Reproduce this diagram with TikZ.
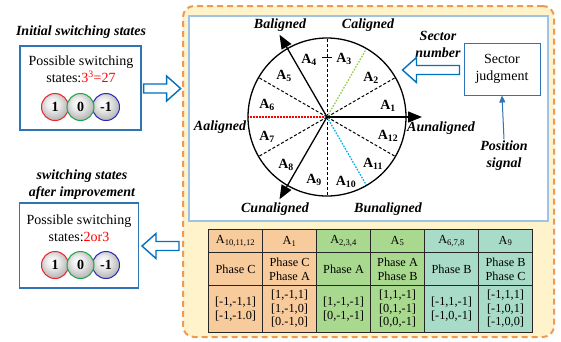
\documentclass[tikz,border=0pt]{standalone}
\usepackage{fontspec}
\setmainfont{Liberation Serif}
\usetikzlibrary{arrows.meta,calc}

\definecolor{panelfill}{HTML}{FFF3CC}
\definecolor{panelline}{HTML}{EE9A55}
\definecolor{boxblue}{HTML}{2E75B6}
\definecolor{paleblue}{HTML}{9DC3E6}
\definecolor{arrowblue}{HTML}{0070C0}
\definecolor{cellorange}{HTML}{F8CB9C}
\definecolor{cellgreen}{HTML}{A9D98E}
\definecolor{cellteal}{HTML}{A8DCC8}
\definecolor{linegreen}{HTML}{92D050}
\definecolor{linecyan}{HTML}{00B0F0}
\definecolor{ringred}{HTML}{E8262B}
\definecolor{ringgreen}{HTML}{22A34A}
\definecolor{ringblue}{HTML}{2A2AB8}

% glossy grey ball used for the three switching levels
\pgfdeclareradialshading{pearl}{\pgfpoint{-6bp}{8bp}}{%
  color(0bp)=(white); color(12bp)=(white!92!black);
  color(30bp)=(white!68!black); color(50bp)=(white!58!black)}

% hollow block arrow of a given length, drawn from the local origin
\newcommand\hollowarrow[2]{%
  \draw[hollow,#1] (0,4.5) -- (#2-14,4.5) -- (#2-14,12.5) -- (#2,0)
    -- (#2-14,-12.5) -- (#2-14,-4.5) -- (0,-4.5) -- cycle;}

\tikzset{
  txt/.style={font=\fontsize{14}{17}\selectfont, align=center, inner sep=0pt},
  bi/.style={font=\fontsize{14}{17}\selectfont\bfseries\itshape, align=center, inner sep=0pt},
  sect/.style={font=\fontsize{14}{17}\selectfont\bfseries, inner sep=0pt},
  statebox/.style={draw=boxblue, line width=1.2pt, fill=white, inner sep=0pt},
  ball/.style={circle, minimum size=27pt, inner sep=0pt, shading=pearl,
    line width=1pt, font=\fontsize{14}{17}\selectfont\bfseries},
  hollow/.style={draw=arrowblue, fill=white, line width=1.4pt, line join=miter},
  spoke/.style={line width=1pt, dash pattern=on 3pt off 2pt},
  dotspoke/.style={line width=1.3pt, dash pattern=on 1.6pt off 1.4pt},
  axis/.style={line width=1.3pt, -{Triangle[length=14pt,width=11pt]}},
  cell/.style={draw=black!85, line width=1.1pt, inner sep=0pt, align=center,
    anchor=north west, minimum width=54pt,
    font=\fontsize{12.3}{13.5}\selectfont},
}

\begin{document}
\begin{tikzpicture}[x=1pt,y=-1pt]
\useasboundingbox (0,0) rectangle (561,341);

% ---------- right-hand panel ----------
\node[draw=panelline, fill=panelfill, line width=2pt, dash pattern=on 6pt off 4pt,
      rounded corners=11pt, minimum width=371pt, minimum height=331pt, inner sep=0pt]
      (panel) at (368.5,171.5) {};
\node[draw=paleblue, fill=white, line width=1.3pt, minimum width=359pt,
      minimum height=205pt, inner sep=0pt] (inner) at (368.5,118.5) {};

% ---------- sector wheel ----------
\coordinate (O) at (327,117);
\draw[spoke] (O) -- +(90:79pt);
\draw[spoke] (O) -- +(270:79pt);
\foreach \a in {30,150,210,330} \draw[spoke] (O) -- +(\a:79pt);
\draw[dotspoke, linegreen] (O) -- +(60:79pt);
\draw[dotspoke, red] (O) -- +(180:79pt);
\draw[dotspoke, linecyan] (O) -- +(300:79pt);
\draw[line width=1.3pt] (O) circle[radius=79pt];
\draw[line width=0.7pt] (322,57) -- (332,57);
\draw[axis] (O) -- +(0:95pt) coordinate (tipA);
\draw[axis] (O) -- +(120:95pt) coordinate (tipB);
\draw[axis] (O) -- +(240:95pt) coordinate (tipC);
\coordinate (rim) at (403,70);

\node[sect] (a1) at (388,106) {A\textsubscript{1}};
\node[sect] (a2) at (371,78) {A\textsubscript{2}};
\node[sect] (a3) at (344,59) {A\textsubscript{3}};
\node[sect] (a4) at (309,60) {A\textsubscript{4}};
\node[sect] (a5) at (284,76) {A\textsubscript{5}};
\node[sect] (a6) at (267,105) {A\textsubscript{6}};
\node[sect] (a7) at (267,137) {A\textsubscript{7}};
\node[sect] (a8) at (286,165) {A\textsubscript{8}};
\node[sect] (a9) at (314,180) {A\textsubscript{9}};
\node[sect] (a10) at (346,182) {A\textsubscript{10}};
\node[sect] (a11) at (373,164) {A\textsubscript{11}};
\node[sect] (a12) at (388,136) {A\textsubscript{12}};

\node[bi] (lb) at (280,25) {Baligned};
\node[bi] (lc) at (368,25) {Caligned};
\node[bi] (la) at (220,127) {Aaligned};
\node[bi] (lau) at (441,128) {Aunaligned};
\node[bi] (lcu) at (275,209) {Cunaligned};
\node[bi] (lbu) at (388,209) {Bunaligned};

% ---------- sector judgment ----------
\node[bi] (secnum) at (438,44.5) {Sector\\number};
\node[draw=boxblue, line width=1pt, fill=white, minimum width=76pt,
      minimum height=52pt, txt] (judge) at (502,69) {Sector\\judgment};
\node[bi] (pos) at (504,155.5) {Position\\signal};
\draw[boxblue, line width=1pt, -{Triangle[length=7pt,width=6pt]}]
  (pos.north) ++(0,-1) -- (judge.south);
\coordinate (jt) at ($(judge.west)+(-4,1)$);
\hollowarrow{shift={(jt)}, xscale=-1}{57}

% ---------- state boxes on the left ----------
\node[bi] (t1) at (81,32) {Initial switching states};
\node[statebox, minimum width=121pt, minimum height=84pt] (box1) at (80.5,88) {};
\node[txt] (p1) at (81,69.5) {Possible switching\\states:{\color{red}3\textsuperscript{3}=27}};
\node[ball, draw=ringred] (r1) at (55,107) {1};
\node[ball, draw=ringblue] (b1) at (106,107) {-1};
\node[ball, draw=ringgreen] (g1) at (80.5,107) {0};

\node[bi] (t2) at (82,185) {switching states\\after improvement};
\node[statebox, minimum width=119pt, minimum height=85pt] (box2) at (79,245.5) {};
\node[txt] (p2) at (79,228.5) {Possible switching\\states:{\color{red}2or3}};
\node[ball, draw=ringred] (r2) at (55,265) {1};
\node[ball, draw=ringblue] (b2) at (106,265) {-1};
\node[ball, draw=ringgreen] (g2) at (80.5,265) {0};

\coordinate (at1) at ($(box1.east)+(2,0.5)$);
\hollowarrow{shift={(at1)}}{37}
\coordinate (at2) at ($(box2.east -| panel.west)+(-3,0.5)$);
\hollowarrow{shift={(at2)}, xscale=-1}{37}

% ---------- sector / phase / state table ----------
\node[cell, fill=cellorange, minimum height=23pt] (h1) at (208,229) {A\textsubscript{10,11,12}};
\node[cell, fill=cellorange, minimum height=23pt] (h2) at (262,229) {A\textsubscript{1}};
\node[cell, fill=cellgreen, minimum height=23pt] (h3) at (316,229) {A\textsubscript{2,3,4}};
\node[cell, fill=cellgreen, minimum height=23pt] (h4) at (370,229) {A\textsubscript{5}};
\node[cell, fill=cellteal, minimum height=23pt] (h5) at (424,229) {A\textsubscript{6,7,8}};
\node[cell, fill=cellteal, minimum height=23pt] (h6) at (478,229) {A\textsubscript{9}};

\node[cell, fill=cellorange, minimum height=33pt] (p1c) at (208,252) {Phase C};
\node[cell, fill=cellorange, minimum height=33pt] (p2c) at (262,252) {Phase C\\Phase A};
\node[cell, fill=cellgreen, minimum height=33pt] (p3c) at (316,252) {Phase A};
\node[cell, fill=cellgreen, minimum height=33pt] (p4c) at (370,252) {Phase A\\Phase B};
\node[cell, fill=cellteal, minimum height=33pt] (p5c) at (424,252) {Phase B};
\node[cell, fill=cellteal, minimum height=33pt] (p6c) at (478,252) {Phase B\\Phase C};

\node[cell, fill=cellorange, minimum height=47pt] (s1) at (208,285) {[-1,-1,1]\\{}[-1,-1.0]};
\node[cell, fill=cellorange, minimum height=47pt] (s2) at (262,285) {[1,-1,1]\\{}[1,-1,0]\\{}[0.-1,0]};
\node[cell, fill=cellgreen, minimum height=47pt] (s3) at (316,285) {[1,-1,-1]\\{}[0,-1,-1]};
\node[cell, fill=cellgreen, minimum height=47pt] (s4) at (370,285) {[1,1,-1]\\{}[0,1,-1]\\{}[0,0,-1]};
\node[cell, fill=cellteal, minimum height=47pt] (s5) at (424,285) {[-1,1,-1]\\{}[-1,0,-1]};
\node[cell, fill=cellteal, minimum height=47pt] (s6) at (478,285) {[-1,1,1]\\{}[-1,0,1]\\{}[-1,0,0]};
\end{tikzpicture}
\end{document}
